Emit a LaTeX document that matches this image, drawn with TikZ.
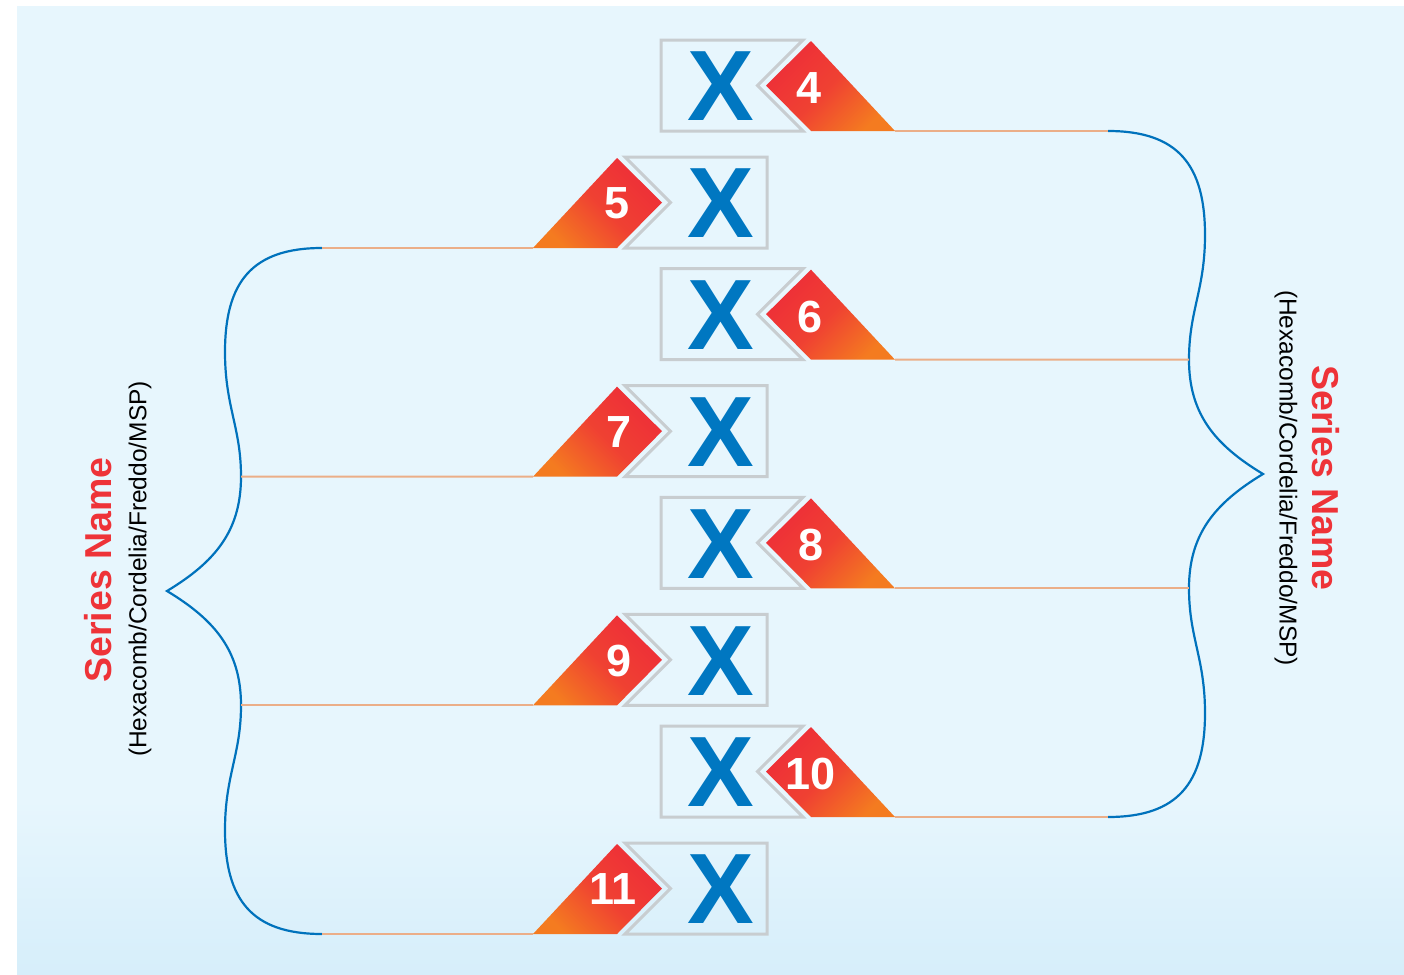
\documentclass[tikz,border=0pt]{standalone}
\usepackage{fontspec}
\setmainfont{Liberation Sans}
\definecolor{bgtop}{HTML}{E7F6FD}
\definecolor{bgbot}{HTML}{D6EEFA}
\definecolor{xblue}{HTML}{0077C1}
\definecolor{braceblue}{HTML}{0072BC}
\definecolor{boxgray}{HTML}{C8CDD0}
\definecolor{tagred}{HTML}{EE2E38}
\definecolor{tagorange}{HTML}{F47B20}
\definecolor{linepeach}{HTML}{EBAE88}
\definecolor{titlered}{HTML}{EE3338}
\begin{document}
\begin{tikzpicture}[x=0.5pt,y=-0.5pt,
  xbox/.style={draw=boxgray,line width=1.5pt,line join=miter},
  xletter/.style={text=xblue,font=\fontsize{50}{50}\selectfont\bfseries,inner sep=0pt},
  numtext/.style={text=white,font=\fontsize{22.5}{22.5}\selectfont\bfseries,inner sep=0pt},
  conn/.style={draw=linepeach,line width=1pt},
  bracepath/.style={draw=braceblue,line width=1.1pt},
  titletext/.style={text=titlered,font=\fontsize{18.75}{18.75}\selectfont\bfseries,inner sep=0pt},
  subtext/.style={text=black,font=\fontsize{12.25}{12.25}\selectfont,inner sep=0pt},
  rtag/.style={top color=tagred,bottom color=tagorange,middle color=tagred!75!tagorange,shading angle=45},
  ltag/.style={top color=tagred,bottom color=tagorange,middle color=tagred!75!tagorange,shading angle=-45}]
\useasboundingbox (0,0) rectangle (1404,975);
\fill[bgtop] (17,6) rectangle (1404,800);
\shade[top color=bgtop,bottom color=bgbot] (17,799.5) rectangle (1404,975);

% right rows
\foreach \n/\T/\nx [count=\i] in {4/40/809,6/268.67/810,8/497.33/811,10/726/811} {
  \pgfmathsetmacro\B{\T+91}
  \pgfmathsetmacro\M{\T+45.5}
  \draw[xbox] (661,\T) -- (803,\T) -- (757.5,\M) -- (803,\B) -- (661,\B) -- cycle;
  \shade[rtag] (766,\M) -- (811,\T+1) -- (895,\B) -- (811,\B) -- cycle;
  \node[xletter] (xr\i) at (721,\M+1) {X};
  \node[numtext] (nr\i) at (\nx,\M+2.5) {\n};
  \coordinate (tr\i) at (895,\B);
}
% left rows
\foreach \n/\T/\nx [count=\i] in {5/157/617,7/385.67/619,9/614.33/619,11/843/613} {
  \pgfmathsetmacro\B{\T+91}
  \pgfmathsetmacro\M{\T+45.5}
  \draw[xbox] (767,\T) -- (625,\T) -- (670.5,\M) -- (625,\B) -- (767,\B) -- cycle;
  \shade[ltag] (662,\M) -- (617,\T+1) -- (533,\B) -- (617,\B) -- cycle;
  \node[xletter] (xl\i) at (721,\M+1) {X};
  \node[numtext] (nl\i) at (\nx,\M+1) {\n};
  \coordinate (tl\i) at (533,\B);
}

% right brace
\begin{scope}[shift={(1108,474)}]
\draw[bracepath] (0,-343) coordinate (rb1)
  .. controls (70,-343) and (97,-309) .. (97,-239)
  .. controls (97,-184) and (81,-164) .. (81,-114.33) coordinate (rb2)
  .. controls (81,-60) and (107,-29) .. (155,0) coordinate (rtip)
  .. controls (107,29) and (81,60) .. (81,114.33) coordinate (rb3)
  .. controls (81,164) and (97,184) .. (97,239)
  .. controls (97,309) and (70,343) .. (0,343) coordinate (rb4);
\end{scope}
% left brace
\begin{scope}[shift={(322,591)},xscale=-1]
\draw[bracepath] (0,-343) coordinate (lb1)
  .. controls (70,-343) and (97,-309) .. (97,-239)
  .. controls (97,-184) and (81,-164) .. (81,-114.33) coordinate (lb2)
  .. controls (81,-60) and (107,-29) .. (155,0) coordinate (ltip)
  .. controls (107,29) and (81,60) .. (81,114.33) coordinate (lb3)
  .. controls (81,164) and (97,184) .. (97,239)
  .. controls (97,309) and (70,343) .. (0,343) coordinate (lb4);
\end{scope}

\foreach \i in {1,2,3,4} {
  \draw[conn] (tr\i) -- (rb\i);
  \draw[conn] (tl\i) -- (lb\i);
}

\node[titletext,rotate=-90] (rtitle) at (1326,478) {Series Name};
\node[subtext,rotate=-90] (rsub) at (1286,478) {(Hexacomb/Cordelia/Freddo/MSP)};
\node[titletext,rotate=90] (ltitle) at (98,570) {Series Name};
\node[subtext,rotate=90] (lsub) at (140,569) {(Hexacomb/Cordelia/Freddo/MSP)};
\end{tikzpicture}
\end{document}
